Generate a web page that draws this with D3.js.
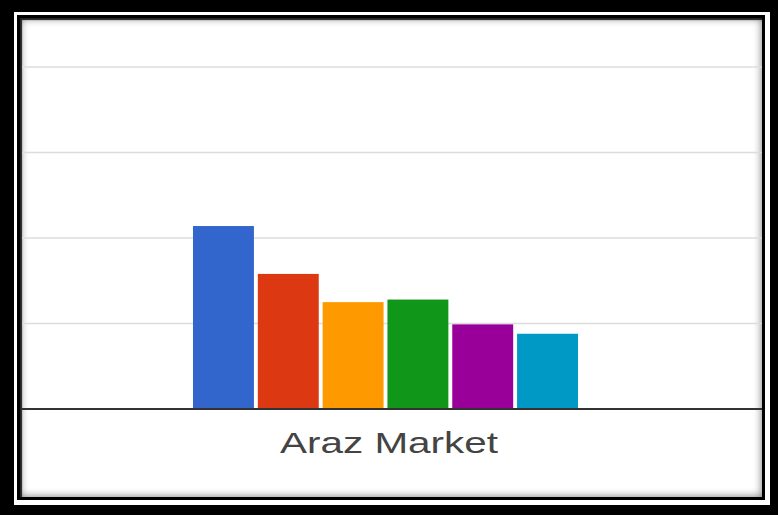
<!DOCTYPE html>
<html>
<head>
<meta charset="utf-8">
<script src="https://cdn.jsdelivr.net/npm/d3@7"></script>
<style>
  html, body { margin: 0; padding: 0; }
  body { width: 778px; height: 515px; background: #000; position: relative; overflow: hidden; }
  #ring { position: absolute; left: 14px; top: 12px; width: 756px; height: 493px; background: #fff; }
  #inner { position: absolute; left: 17px; top: 15px; width: 748px; height: 485px; box-sizing: border-box;
           border: 3px solid #000; background: #fff;
           box-shadow: inset 2px 2px 1px #222, inset 0 0 9px rgba(0,0,0,0.55); }
  svg { position: absolute; left: 0; top: 0; }
</style>
</head>
<body>
<div id="ring"></div>
<div id="inner"></div>
<script>
const categories = ["Araz Market"];
const seriesNames = ["S1", "S2", "S3", "S4", "S5", "S6"];
const seriesValues = [21.4, 15.8, 12.5, 12.8, 9.9, 8.8];
const seriesColors = ["#3366cc", "#dc3912", "#ff9900", "#109618", "#990099", "#0099c6"];
const tickValues = [0, 10, 20, 30, 40];

const W = 778, H = 515;
const svg = d3.select("body").append("svg").attr("width", W).attr("height", H);

const plotLeft = 22, plotRight = 762;
const y = d3.scaleLinear().domain([0, 40]).range([409, 67]);

const x0 = d3.scaleBand().domain(categories).range([plotLeft, plotRight]).paddingInner(0).paddingOuter(0.24);
const x1 = d3.scaleBand().domain(seriesNames).range([193 - x0(categories[0]), 578 - x0(categories[0])]).paddingInner(0.06).paddingOuter(0);

// gridlines
svg.append("g").selectAll("line").data(tickValues.filter(d => d > 0)).join("line")
  .attr("x1", plotLeft).attr("x2", plotRight)
  .attr("y1", d => y(d)).attr("y2", d => y(d))
  .attr("stroke", "#dcdcdc").attr("stroke-width", 1.6);

// bars
const g = svg.append("g").selectAll("g").data(categories).join("g")
  .attr("transform", d => `translate(${x0(d)},0)`);
g.selectAll("rect").data(() => seriesNames.map((s, i) => ({ s, v: seriesValues[i], c: seriesColors[i] })))
  .join("rect")
  .attr("x", d => x1(d.s))
  .attr("width", x1.bandwidth())
  .attr("y", d => y(d.v))
  .attr("height", d => y(0) - y(d.v))
  .attr("fill", d => d.c);

// baseline
svg.append("line").attr("x1", plotLeft).attr("x2", plotRight)
  .attr("y1", y(0)).attr("y2", y(0)).attr("stroke", "#333").attr("stroke-width", 2);

// category label
svg.append("g").selectAll("text").data(categories).join("text")
  .attr("x", 389).attr("y", 453)
  .attr("text-anchor", "middle")
  .attr("font-family", "Arial, 'Liberation Sans', sans-serif")
  .attr("font-size", 30)
  .attr("fill", "#444")
  .attr("textLength", 218).attr("lengthAdjust", "spacingAndGlyphs")
  .text(d => d);
</script>
</body>
</html>
